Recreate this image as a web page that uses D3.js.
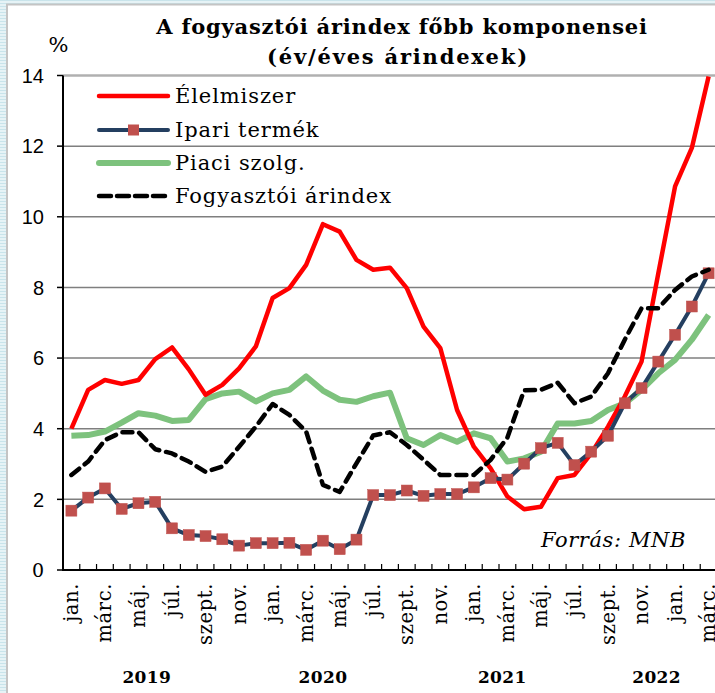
<!DOCTYPE html>
<html><head><meta charset="utf-8">
<script src="https://cdn.jsdelivr.net/npm/d3@7"></script>
<style>html,body{margin:0;padding:0;background:#fff;}svg{display:block;}</style>
</head><body>
<svg id="chart" width="715" height="693"></svg>
<script>
// ---- data ----
const monthNames = ["jan.","febr.","márc.","ápr.","máj.","jún.","júl.","aug.","szept.","okt.","nov.","dec."];
const years = ["2019","2020","2021","2022"];
const months = d3.range(39); // Jan 2019 .. Mar 2022
const yTicks = [0,2,4,6,8,10,12,14];

const elelmiszer = [4.0,5.1,5.38,5.27,5.38,5.97,6.3,5.68,4.96,5.24,5.71,6.33,
  7.7,7.98,8.64,9.79,9.58,8.78,8.5,8.56,7.98,6.89,6.28,4.53,
  3.49,2.88,2.08,1.72,1.79,2.6,2.69,3.3,4.06,4.91,5.9,8.4,10.86,11.95,13.97];
const ipari = [1.68,2.05,2.31,1.73,1.89,1.93,1.18,0.99,0.96,0.87,0.69,0.76,
  0.76,0.77,0.57,0.83,0.59,0.86,2.12,2.12,2.25,2.1,2.15,2.15,
  2.34,2.6,2.56,3.01,3.45,3.6,2.97,3.35,3.8,4.72,5.15,5.9,6.66,7.46,8.4];
const piaci = [3.8,3.82,3.92,4.17,4.44,4.37,4.22,4.25,4.84,5.0,5.05,4.77,
  5.0,5.1,5.48,5.08,4.82,4.76,4.92,5.02,3.73,3.54,3.82,3.63,
  3.87,3.73,3.07,3.16,3.35,4.15,4.15,4.22,4.53,4.72,5.1,5.57,5.95,6.52,7.22];
const fogyasztoi = [2.69,3.07,3.68,3.9,3.9,3.42,3.3,3.07,2.78,2.93,3.49,4.06,
  4.7,4.39,3.92,2.41,2.21,3.02,3.81,3.9,3.54,3.12,2.69,2.69,
  2.69,3.12,3.75,5.09,5.1,5.3,4.72,4.91,5.57,6.52,7.41,7.41,7.93,8.31,8.5];
const seriesNames = ["Élelmiszer","Ipari termék","Piaci szolg.","Fogyasztói árindex"];
const yearLabelPos = [4.5, 15.0, 25.7, 34.9]; // label centre, in month units

// ---- setup ----
const svg = d3.select("#chart");
const defs = svg.append("defs");
const pat = defs.append("pattern").attr("id","stripe").attr("width",4).attr("height",3)
  .attr("patternUnits","userSpaceOnUse");
pat.append("rect").attr("width",4).attr("height",3).attr("fill","#e6f3f6");
pat.append("rect").attr("width",4).attr("height",1).attr("fill","#c9e4eb");
svg.append("rect").attr("width",715).attr("height",693).attr("fill","url(#stripe)");
svg.append("rect").attr("x",7).attr("y",4.5).attr("width",720).attr("height",700)
  .attr("fill","#fff").attr("stroke","#c4c4c4").attr("stroke-width",2);

const x = d3.scaleBand().domain(months).range([63,717]).paddingInner(0).paddingOuter(0);
const y = d3.scaleLinear().domain([0,14]).range([570,75.5]);
const cx = i => x(i) + x.bandwidth()/2;

// gridlines
svg.append("g").selectAll("line").data(yTicks.filter(d=>d>0)).join("line")
  .attr("x1",63).attr("x2",717).attr("y1",d=>y(d)).attr("y2",d=>y(d))
  .attr("stroke",d=>d===14?"#b0b0b0":"#7f7f7f").attr("stroke-width",d=>d===14?2.5:1.5);

// y axis
const gy = svg.append("g");
gy.append("line").attr("x1",63).attr("x2",63).attr("y1",y(14)).attr("y2",y(0)+1)
  .attr("stroke","#000").attr("stroke-width",2);
gy.selectAll("line.t").data(yTicks).join("line").attr("class","t")
  .attr("x1",57).attr("x2",63).attr("y1",d=>y(d)).attr("y2",d=>y(d))
  .attr("stroke","#000").attr("stroke-width",1.5);
gy.selectAll("text").data(yTicks).join("text")
  .attr("x",44).attr("y",d=>y(d)).attr("dy","0.36em").attr("text-anchor","end")
  .attr("font-family",d=>d===0?"DejaVu Serif":"Liberation Sans")
  .attr("font-size",d=>d===0?19:20).attr("fill","#000").text(d=>d);

// x axis
const gx = svg.append("g");
gx.append("line").attr("x1",62).attr("x2",717).attr("y1",y(0)).attr("y2",y(0))
  .attr("stroke","#000").attr("stroke-width",2);
gx.selectAll("line.t").data(d3.range(40)).join("line").attr("class","t")
  .attr("x1",d=>x(0)+d*x.bandwidth()).attr("x2",d=>x(0)+d*x.bandwidth())
  .attr("y1",y(0)-6).attr("y2",y(0)).attr("stroke","#000").attr("stroke-width",1.2);
gx.selectAll("text").data(months.filter(i=>i%2===0)).join("text")
  .attr("transform",i=>`translate(${cx(i)+6.5},583) rotate(-90)`)
  .attr("text-anchor","end").attr("font-family","DejaVu Serif").attr("font-size",19.5)
  .attr("letter-spacing",0.6).attr("fill","#000").text(i=>monthNames[i%12]);
svg.append("g").selectAll("text").data(years).join("text")
  .attr("x",(d,i)=>cx(0)+yearLabelPos[i]*x.bandwidth()).attr("y",683)
  .attr("text-anchor","middle").attr("font-family","DejaVu Serif").attr("font-weight","bold")
  .attr("font-size",17).attr("letter-spacing",0.4).text(d=>d);

// lines
const line = d3.line().x((d,i)=>cx(i)).y(d=>y(d));
svg.append("path").datum(piaci).attr("d",line).attr("fill","none")
  .attr("stroke","#7dc27d").attr("stroke-width",6).attr("stroke-linejoin","round");
svg.append("path").datum(elelmiszer).attr("d",line).attr("fill","none")
  .attr("stroke","#ff0000").attr("stroke-width",4.5).attr("stroke-linejoin","round");
svg.append("path").datum(ipari).attr("d",line).attr("fill","none")
  .attr("stroke","#243f60").attr("stroke-width",4).attr("stroke-linejoin","round");
svg.append("g").selectAll("rect").data(ipari).join("rect")
  .attr("x",(d,i)=>cx(i)-5.5).attr("y",d=>y(d)-5.5).attr("width",11).attr("height",11)
  .attr("fill","#c0504d").attr("stroke","#c0504d").attr("stroke-width",0.5);
svg.append("path").datum(fogyasztoi).attr("d",line).attr("fill","none")
  .attr("stroke","#000").attr("stroke-width",4.5).attr("stroke-linejoin","round")
  .attr("stroke-linecap","round").attr("stroke-dasharray","10,7");

// legend
const leg = svg.append("g");
const legY = [96,130,163,196];
const legStyles = [
  {stroke:"#ff0000",w:4.5},{stroke:"#243f60",w:4},{stroke:"#7dc27d",w:6},{stroke:"#000",w:4.5,dash:"12,6"}];
seriesNames.forEach((n,i)=>{
  const l = leg.append("line").attr("x1",99).attr("x2",168).attr("y1",legY[i]).attr("y2",legY[i])
    .attr("stroke",legStyles[i].stroke).attr("stroke-width",legStyles[i].w).attr("stroke-linecap","round");
  if(legStyles[i].dash) l.attr("stroke-dasharray",legStyles[i].dash);
  if(i===1) leg.append("rect").attr("x",133.5-5.5).attr("y",legY[i]-5.5).attr("width",11).attr("height",11).attr("fill","#c0504d");
  leg.append("text").attr("x",175).attr("y",legY[i]).attr("dy","0.35em")
    .attr("font-family","DejaVu Serif").attr("font-size",21).attr("letter-spacing",0.9)
    .attr("fill","#000").text(n);
});

// titles
svg.append("text").attr("x",402).attr("y",34).attr("text-anchor","middle")
  .attr("font-family","DejaVu Serif").attr("font-weight","bold").attr("font-size",21)
  .attr("letter-spacing",0.8).text("A fogyasztói árindex főbb komponensei");
svg.append("text").attr("x",398).attr("y",64).attr("text-anchor","middle")
  .attr("font-family","DejaVu Serif").attr("font-weight","bold").attr("font-size",21)
  .attr("letter-spacing",1.8).text("(év/éves árindexek)");
svg.append("text").attr("x",58.5).attr("y",52).attr("text-anchor","middle")
  .attr("font-family","DejaVu Serif").attr("font-size",21).text("%");
svg.append("text").attr("x",686).attr("y",547).attr("text-anchor","end")
  .attr("font-family","DejaVu Serif").attr("font-style","italic").attr("font-size",21)
  .attr("letter-spacing",0.6).text("Forrás: MNB");
</script>
</body></html>
